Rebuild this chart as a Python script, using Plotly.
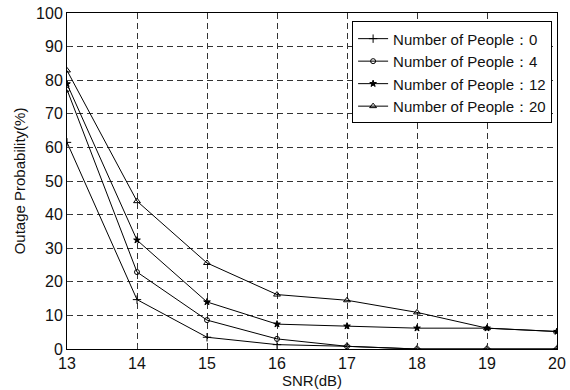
import plotly.graph_objects as go

snr = [13, 14, 15, 16, 17, 18, 19, 20]
p0 = [61.5, 14.7, 3.5, 1.3, 0.8, 0.0, 0.0, 0.0]
p4 = [77.2, 22.9, 8.6, 3.0, 0.8, 0.0, 0.0, 0.0]
p12 = [78.9, 32.4, 14.0, 7.4, 6.8, 6.2, 6.2, 5.2]
p20 = [82.9, 44.0, 25.6, 16.2, 14.5, 10.9, 6.2, 5.2]
names = ["Number of People：0", "Number of People：4",
         "Number of People：12", "Number of People：20"]
x_ticks = [13, 14, 15, 16, 17, 18, 19, 20]
y_ticks = [0, 10, 20, 30, 40, 50, 60, 70, 80, 90, 100]

series = [p0, p4, p12, p20]
symbols = ["cross-thin-open", "circle-open", "star", "triangle-up-open"]
sizes = [6, 5, 5, 6]

fig = go.Figure()
for ys, nm, sym, sz in zip(series, names, symbols, sizes):
    fig.add_trace(go.Scatter(
        x=snr, y=ys, mode="lines+markers", name=nm,
        line=dict(color="black", width=1),
        marker=dict(symbol=sym, size=sz, color="black",
                    line=dict(color="black", width=1)),
    ))

font_family = "Liberation Sans, Arial, sans-serif"
fig.update_layout(
    width=570, height=390,
    margin=dict(l=67, r=13, t=13, b=41),
    plot_bgcolor="white", paper_bgcolor="white",
    font=dict(family=font_family, size=15, color="black"),
    showlegend=True,
    legend=dict(x=0.99, y=0.975, xanchor="right", yanchor="top",
                bgcolor="white", bordercolor="black", borderwidth=1,
                font=dict(size=15, family=font_family, color="#111"),
                tracegroupgap=0, itemwidth=30),
)
fig.update_xaxes(
    range=[13, 20], tickvals=x_ticks, ticks="inside", ticklen=4,
    showline=True, linecolor="black", linewidth=1, mirror=True,
    showgrid=True, gridcolor="#333", griddash="6px,4px", gridwidth=1,
    zeroline=False, tickfont=dict(size=16, color="#111"), automargin=False,
    title=dict(text="SNR(dB)", font=dict(size=15, color="#111"), standoff=0),
)
fig.update_yaxes(
    range=[0, 100], tickvals=y_ticks, ticks="inside", ticklen=4,
    showline=True, linecolor="black", linewidth=1, mirror=True,
    showgrid=True, gridcolor="#333", griddash="6px,4px", gridwidth=1,
    zeroline=False, tickfont=dict(size=16, color="#111"), automargin=False,
    title=dict(text="Outage Probability(%)", font=dict(size=15, color="#111"),
               standoff=6),
)
fig.write_html("out.html")
